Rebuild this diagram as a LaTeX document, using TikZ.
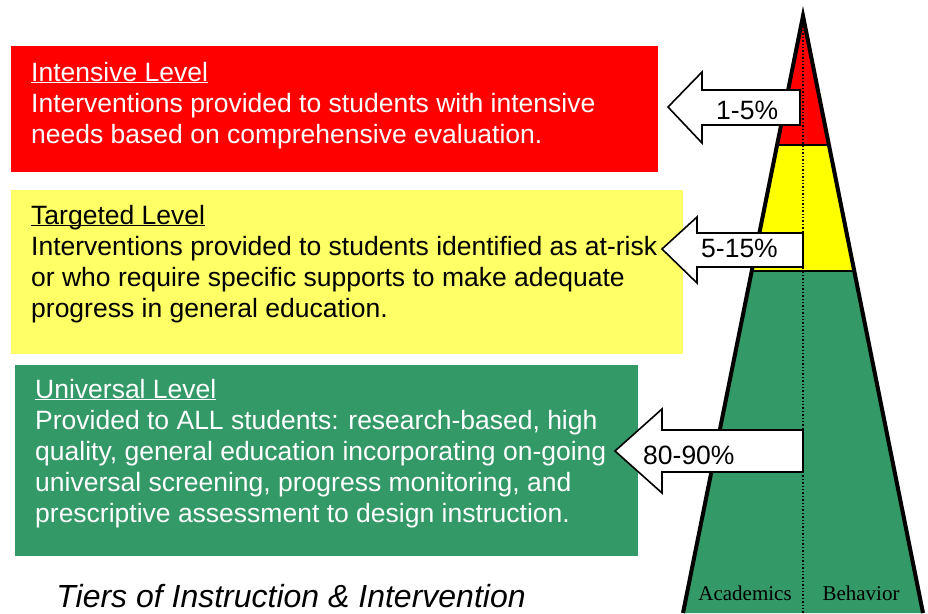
\documentclass[tikz,border=0pt]{standalone}
\usepackage{fontspec}
\setmainfont{Liberation Sans}
\newfontfamily\timesf{Liberation Serif}
\definecolor{boxred}{HTML}{FF0000}
\definecolor{boxyellow}{HTML}{FFFF66}
\definecolor{triyellow}{HTML}{FFFF00}
\definecolor{tiergreen}{HTML}{339966}
\newcommand{\ulhead}[1]{\underline{\raisebox{0pt}[\height][0pt]{#1}}}
\begin{document}
\begin{tikzpicture}[x=1pt,y=-1pt,
  txt/.style={anchor=base west,inner sep=0pt,font=\fontsize{26.5}{31}\selectfont},
  wtxt/.style={txt,text=white},
  pct/.style={anchor=base west,inner sep=0pt,font=\fontsize{26.5}{31}\selectfont},
  arrowshape/.style={fill=white,draw=black,line width=1.6pt,line join=miter},
  lbl/.style={anchor=base,inner sep=0pt,font=\timesf\fontsize{21}{24}\selectfont}]
\useasboundingbox (0,0) rectangle (928,613);
\fill[white] (0,0) rectangle (928,613);
% boxes
\fill[boxred] (11,46) rectangle (658,172);
\fill[boxyellow] (11,190) rectangle (683,354);
\fill[tiergreen] (15,365) rectangle (638,556);
% texts
\node[wtxt] (i1) at (31,81) {\ulhead{Intensive Level}};
\node[wtxt] (i2) at (31,112) {Interventions provided to students with intensive};
\node[wtxt] (i3) at (31,143) {needs based on comprehensive evaluation.};
\node[txt] (t1) at (31,224) {\ulhead{Targeted Level}};
\node[txt] (t2) at (31,255) {Interventions provided to students identified as at-risk};
\node[txt] (t3) at (31,286) {or who require specific supports to make adequate};
\node[txt] (t4) at (31,317) {progress in general education.};
\node[wtxt] (u1) at (35,398) {\ulhead{Universal Level}};
\node[wtxt] (u2) at (35,429) {Provided to ALL students: research-based, high};
\node[wtxt] (u3) at (35,460) {quality, general education incorporating on-going};
\node[wtxt] (u4) at (35,491) {universal screening, progress monitoring, and};
\node[wtxt] (u5) at (35,522) {prescriptive assessment to design instruction.};
% triangle
\coordinate (apex) at (803,16);
\coordinate (bl) at (683,613);
\coordinate (br) at (923,613);
\fill[boxred] (apex) -- (777.1,145) -- (828.9,145) -- cycle;
\fill[triyellow] (777.1,145) -- (751.7,271) -- (854.3,271) -- (828.9,145) -- cycle;
\fill[tiergreen] (751.7,271) -- (bl) -- (br) -- (854.3,271) -- cycle;
\draw[line width=1.8pt] (777.1,145) -- (828.9,145);
\draw[line width=1.8pt] (751.7,271) -- (854.3,271);
\draw[line width=1.4pt,dotted] (803,30) -- (803,613);
\draw[line width=4pt,line join=miter] (bl) -- (apex) -- (br);
% labels
\node[lbl] (acad) at (745,600) {Academics};
\node[lbl] (behav) at (861,600) {Behavior};
% arrows
\draw[arrowshape] (668,107) -- (702,72) -- (702,90) -- (800,90) -- (800,125) -- (702,125) -- (702,143) -- cycle;
\node[pct] (p1) at (716,119) {1-5\%};
\draw[arrowshape] (662,249) -- (697,217) -- (697,233) -- (803,233) -- (803,267) -- (697,267) -- (697,283) -- cycle;
\node[pct] (p2) at (701,257) {5-15\%};
\draw[arrowshape] (615,451) -- (662,409) -- (662,430) -- (803,430) -- (803,472) -- (662,472) -- (662,493) -- cycle;
\node[pct] (p3) at (643,464) {80-90\%};
% title
\node[anchor=base,inner sep=0pt,font=\itshape\fontsize{32}{36}\selectfont] (title) at (291,607) {Tiers of Instruction \& Intervention};
\end{tikzpicture}
\end{document}
